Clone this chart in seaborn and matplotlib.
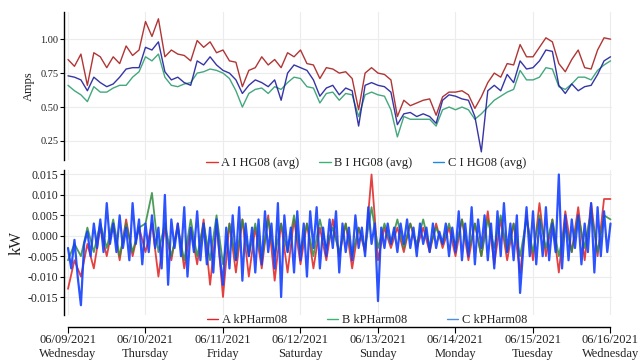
import matplotlib
matplotlib.use("Agg")
import matplotlib.pyplot as plt
import matplotlib.dates as mdates
from matplotlib.lines import Line2D
import numpy as np
import pandas as pd
import seaborn as sns

# ---------------- data ----------------
# top panel: 2-hour samples, 06/09 00:00 .. 06/16 00:00 (85 values)
a_amps = [0.85, 0.80, 0.89, 0.66, 0.90, 0.87, 0.79, 0.87, 0.82, 0.95, 0.88, 0.92,
          1.13, 1.02, 1.15, 0.87, 0.92, 0.89, 0.88, 0.84, 0.99, 0.94, 0.98, 0.90,
          0.92, 0.84, 0.83, 0.65, 0.77, 0.79, 0.87, 0.81, 0.85, 0.79, 0.90, 0.87,
          0.92, 0.82, 0.81, 0.71, 0.79, 0.78, 0.75, 0.76, 0.71, 0.48, 0.75, 0.79,
          0.75, 0.74, 0.70, 0.43, 0.55, 0.51, 0.53, 0.55, 0.56, 0.44, 0.575, 0.61,
          0.61, 0.62, 0.59, 0.49, 0.575, 0.68, 0.75, 0.72, 0.82, 0.81, 0.96, 0.87,
          0.87, 0.94, 1.01, 0.98, 0.82, 0.76, 0.85, 0.92, 0.79, 0.78, 0.92, 1.01, 1.00]
b_amps = [0.66, 0.62, 0.59, 0.54, 0.65, 0.61, 0.61, 0.64, 0.66, 0.66, 0.72, 0.76,
          0.87, 0.84, 0.89, 0.72, 0.66, 0.65, 0.67, 0.68, 0.75, 0.76, 0.78, 0.77,
          0.75, 0.71, 0.62, 0.50, 0.60, 0.63, 0.64, 0.60, 0.65, 0.63, 0.68, 0.72,
          0.71, 0.65, 0.64, 0.53, 0.60, 0.61, 0.55, 0.60, 0.59, 0.43, 0.59, 0.61,
          0.59, 0.58, 0.48, 0.28, 0.43, 0.41, 0.41, 0.41, 0.41, 0.36, 0.48, 0.50,
          0.48, 0.50, 0.48, 0.41, 0.45, 0.50, 0.55, 0.58, 0.61, 0.63, 0.77, 0.70,
          0.70, 0.72, 0.79, 0.78, 0.65, 0.63, 0.67, 0.72, 0.72, 0.70, 0.77, 0.81, 0.84]
c_amps = [0.73, 0.72, 0.70, 0.62, 0.72, 0.68, 0.65, 0.67, 0.72, 0.78, 0.79, 0.79,
          0.94, 0.92, 0.98, 0.76, 0.70, 0.72, 0.68, 0.66, 0.84, 0.81, 0.87, 0.81,
          0.77, 0.75, 0.70, 0.60, 0.66, 0.70, 0.68, 0.65, 0.70, 0.55, 0.75, 0.81,
          0.79, 0.77, 0.70, 0.58, 0.64, 0.66, 0.59, 0.64, 0.62, 0.36, 0.66, 0.68,
          0.66, 0.65, 0.61, 0.37, 0.45, 0.46, 0.43, 0.45, 0.43, 0.38, 0.55, 0.59,
          0.58, 0.56, 0.55, 0.43, 0.17, 0.62, 0.66, 0.62, 0.74, 0.68, 0.84, 0.78,
          0.79, 0.84, 0.92, 0.91, 0.66, 0.60, 0.67, 0.62, 0.65, 0.66, 0.74, 0.84, 0.87]

# bottom panel, values in thousandths of kW
a_kph_milli = [-13, -6, -10, -2, -8, 2, -5, 3, -6, 4, -5, 2,
               -4, 3, -10, 2, -6, 3, -8, 2, -7, 4, -12, 3,
               -15, 3, -9, 4, -10, 2, -8, 5, -11, 3, -9, 4,
               -7, 3, -8, 2, -6, 4, -5, 3, -8, 2, -4, 15,
               -6, 2, -3, 2, -4, 3, -3, 2, -4, 3, -3, 2,
               -5, 4, -6, 3, -5, 6, -7, 4, -6, 3, -9, 5,
               -6, 8, -5, 4, -9, 6, -4, 7, -6, 8, -5, 9, 9]
b_kph_milli = [-6, -2, -5, 2, -4, 3, -3, 4, -5, 3, -4, 2,
               3, 10.5, -4, 3, -5, 2, -6, 4, -5, 3, -6, 5,
               -7, 3, -6, 4, -5, 3, -6, 4, -5, 3, -4, 5,
               -4, 3, -5, 4, -3, 2, -4, 3, -5, 2, -3, 7,
               -3, 3, -2, 4, -3, 3, -2, 4, -3, 2, -2, 3,
               -3, 4, -4, 3, -5, 4, -3, 5, -4, 3, -5, 4,
               -4, 5, -3, 4, -5, 3, -4, 5, -3, 6, -4, 5, 4]
# hourly samples (169 values)
c_kph_milli = [-3, -8, -1, -10, -17, -2, 1, -5, 3, -3, 4, -4, 8, -2, 3, -4, 5, -3, 2, -6, 8, -2, 4, -7,
               3, -4, 5, -3, 2, -8, 10, -12, 4, -3, 3, -5, 7, -10, 2, -4, 6, -6, 3, -7, 2, -9, 4, -5,
               -12, 2, -8, 5, -6, 7, -11, 3, -5, 2, -9, 4, -7, 6, -4, 3, -8, 8, -15, 5, -4, 2, -9, 6,
               -6, 3, -10, 6, -3, 7, -8, 2, -5, 4, -3, 6, -9, 3, -4, 2, -6, 5, -3, 2, -5, 7, -2, 3,
               -16, 2, -3, 3, -2, 2, -4, 3, -2, 4, -3, 2, -5, 3, -2, 2, -4, 3, -3, 1, -2, 3, -5, 2,
               -4, 6, -6, 3, -5, 7, -7, 4, -3, 5, -6, 3, -8, 6, -5, 8, -4, 3, -6, 5, -14, -3, 7, -5,
               6, -7, 4, -5, 7, -6, 3, -4, 15, -8, 5, -6, 4, -3, 5, -7, 3, -4, 8, -9, 7, -5, 6, -4, 3]

day_ticks = ["06/09/2021", "06/10/2021", "06/11/2021", "06/12/2021",
             "06/13/2021", "06/14/2021", "06/15/2021", "06/16/2021"]
day_names = ["Wednesday", "Thursday", "Friday", "Saturday",
             "Sunday", "Monday", "Tuesday", "Wednesday"]

top_names = ["A I HG08 (avg)", "B I HG08 (avg)", "C I HG08 (avg)"]
bot_names = ["A kPHarm08", "B kPHarm08", "C kPHarm08"]

# ---------------- styling ----------------
sns.set_theme(style="white")
plt.rcParams["font.family"] = ["Liberation Serif", "DejaVu Serif"]
plt.rcParams["axes.unicode_minus"] = False

top_line_colors = ["#a8201f", "#2f9e70", "#1f1f9e"]
top_leg_colors = ["#e8302a", "#3cb371", "#1e88e5"]
bot_line_colors = ["#e02020", "#2e8b3e", "#1440ff"]
bot_leg_colors = ["#e8202a", "#3cb371", "#4a90e2"]

W, H = 643, 360
fig = plt.figure(figsize=(W / 100, H / 100), dpi=100)
ax1 = fig.add_axes([64 / W, 1 - 160 / H, (612 - 64) / W, (160 - 12) / H])
ax2 = fig.add_axes([64 / W, 1 - 315 / H, (612 - 64) / W, (315 - 170) / H])

t2 = pd.date_range("2021-06-09", periods=len(a_amps), freq="2h")
t1 = pd.date_range("2021-06-09", periods=len(c_kph_milli), freq="h")

top_df = pd.DataFrame({
    "time": np.concatenate([t2, t2, t2]),
    "value": a_amps + b_amps + c_amps,
    "series": [top_names[0]] * len(a_amps) + [top_names[1]] * len(b_amps) + [top_names[2]] * len(c_amps),
})
sns.lineplot(data=top_df, x="time", y="value", hue="series", hue_order=top_names,
             palette=top_line_colors, estimator=None, linewidth=1.0, alpha=0.9,
             legend=False, ax=ax1)

for vals, times, col, lw, al in [(a_kph_milli, t2, bot_line_colors[0], 1.3, 0.85),
                                 (b_kph_milli, t2, bot_line_colors[1], 1.3, 0.85),
                                 (c_kph_milli, t1, bot_line_colors[2], 1.6, 0.9)]:
    d = pd.DataFrame({"time": times, "value": np.array(vals, dtype=float) / 1000.0})
    sns.lineplot(data=d, x="time", y="value", color=col, linewidth=lw, alpha=al,
                 estimator=None, ax=ax2)

days = pd.date_range("2021-06-09", periods=8, freq="D")
dnum = mdates.date2num(days)
px_per_day = 77.5
xlim = (dnum[0] - 4 / px_per_day, dnum[-1] + 1.5 / px_per_day)

grid_c = "#ececec"
for ax in (ax1, ax2):
    ax.set_xlim(*xlim)
    for s in ("top", "right"):
        ax.spines[s].set_visible(False)
    ax.spines["left"].set_color("black")
    ax.spines["left"].set_linewidth(1.0)
    for d in dnum:
        ax.axvline(d, color=grid_c, lw=0.8, zorder=0)
    ax.set_xlabel("")

# top axes
ax1.set_ylim(0.11, 1.20)
ax1.set_yticks([0.25, 0.50, 0.75, 1.00])
ax1.set_yticklabels(["0.25", "0.50", "0.75", "1.00"])
for v in [0.25, 0.50, 0.75, 1.00]:
    ax1.axhline(v, color=grid_c, lw=0.8, zorder=0)
ax1.spines["bottom"].set_visible(False)
ax1.set_xticks([])
ax1.tick_params(axis="y", which="both", left=True, length=3, width=0.8,
                labelsize=7.5, pad=1, color="black", labelcolor="#222222")
ax1.set_ylabel("Amps", fontsize=9, color="#222222", labelpad=4)

# bottom axes
ax2.set_ylim(-0.0194, 0.0161)
yt = [-0.015, -0.010, -0.005, 0.0, 0.005, 0.010, 0.015]
ax2.set_yticks(yt)
ax2.set_yticklabels([f"{v:.3f}" for v in yt])
for v in yt:
    ax2.axhline(v, color=grid_c, lw=0.8, zorder=0)
ax2.tick_params(axis="y", which="both", left=True, length=3, width=0.8,
                labelsize=8.5, pad=1, color="black", labelcolor="#222222")
ax2.set_ylabel("kW", fontsize=12, color="#222222", labelpad=2)
ax2.spines["bottom"].set_position(("outward", 8.6))
ax2.spines["bottom"].set_bounds(dnum[0], dnum[-1])
ax2.spines["bottom"].set_color("black")
ax2.spines["bottom"].set_linewidth(1.0)
ax2.set_xticks(dnum)
ax2.set_xticklabels([f"{a}\n{b}" for a, b in zip(day_ticks, day_names)])
ax2.tick_params(axis="x", which="both", bottom=True, direction="out", length=4,
                width=0.8, labelsize=9, pad=1, color="black", labelcolor="#222222")

# legends
h_top = [Line2D([0], [0], color=c, lw=1.0) for c in top_leg_colors]
fig.legend(h_top, top_names, loc="center", bbox_to_anchor=(366 / W, 1 - 163 / H),
           ncol=3, frameon=False, fontsize=9, handlelength=0.9, handletextpad=0.3,
           columnspacing=1.6, borderpad=0, labelcolor="#222222")
h_bot = [Line2D([0], [0], color=c, lw=1.0) for c in bot_leg_colors]
fig.legend(h_bot, bot_names, loc="center", bbox_to_anchor=(367 / W, 1 - 320 / H),
           ncol=3, frameon=False, fontsize=9, handlelength=0.9, handletextpad=0.3,
           columnspacing=3.2, borderpad=0, labelcolor="#222222")

fig.savefig("out.png", dpi=100)
